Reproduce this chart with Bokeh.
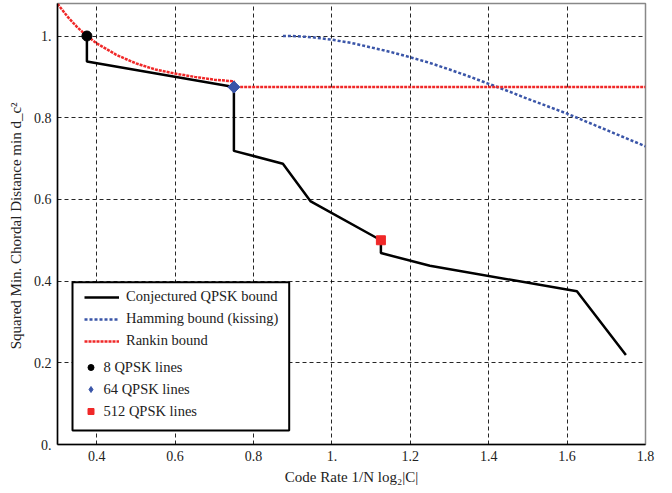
import numpy as np
from bokeh.plotting import figure
from bokeh.models import (Range1d, FixedTicker, Legend, LegendItem, BoxAnnotation)
from bokeh.embed import file_html
from bokeh.resources import INLINE

# ---- data ----
conj_x = [0.375, 0.375, 0.75, 0.75, 0.875, 0.946, 1.125, 1.125, 1.25, 1.625, 1.75]
conj_y = [1.0, 0.9375, 0.875, 0.71875, 0.6875, 0.595, 0.5, 0.46875, 0.4375, 0.375, 0.219]

hamming_x = [0.875, 0.9, 0.95, 1.0, 1.05, 1.1, 1.15, 1.2, 1.25, 1.3, 1.35, 1.4,
             1.45, 1.5, 1.55, 1.6, 1.65, 1.7, 1.75, 1.8]
hamming_y = [1.0, 1.0, 0.997, 0.991, 0.983, 0.972, 0.961, 0.948, 0.934, 0.918, 0.901, 0.883,
             0.865, 0.846, 0.828, 0.810, 0.790, 0.770, 0.750, 0.730]

rankin_x = [0.3, 0.325, 0.35, 0.375, 0.4, 0.45, 0.5, 0.55, 0.6, 0.65, 0.7, 0.75, 0.75, 1.8]
rankin_y = [1.079, 1.048, 1.022, 1.0, 0.982, 0.954, 0.933, 0.918, 0.908, 0.900, 0.893, 0.889, 0.875, 0.875]

pt8 = ([0.375], [1.0])
pt64 = ([0.75], [0.875])
pt512 = ([1.125], [0.5])

x_ticks = [0.4, 0.6, 0.8, 1.0, 1.2, 1.4, 1.6, 1.8]
y_ticks = [0.0, 0.2, 0.4, 0.6, 0.8, 1.0]

FONT = "Liberation Serif"
BLUE = "#3a55a8"
RED = "#f02828"

p = figure(frame_width=588, frame_height=441, output_backend="svg", toolbar_location=None,
           x_range=Range1d(0.3, 1.8), y_range=Range1d(0, 1.0796),
           min_border_left=57, min_border_right=20, min_border_top=3, min_border_bottom=0)

p.outline_line_color = "#888888"
p.outline_line_width = 1.5
p.background_fill_color = "white"

for ax in (p.xaxis[0], p.yaxis[0]):
    ax.axis_line_color = "black"
    ax.axis_line_width = 1.5
    ax.major_tick_in = 0
    ax.major_tick_out = 0
    ax.minor_tick_line_color = None
    ax.major_label_text_font = FONT
    ax.major_label_text_font_size = "14px"
    ax.major_label_text_color = "#222222"
    ax.axis_label_text_font = FONT
    ax.axis_label_text_font_size = "15px"
    ax.axis_label_text_font_style = "normal"
    ax.axis_label_text_color = "#222222"
    ax.major_label_standoff = 6

p.xaxis.ticker = FixedTicker(ticks=x_ticks)
p.yaxis.ticker = FixedTicker(ticks=y_ticks)
p.xaxis.major_label_overrides = {1: "1."}
p.yaxis.major_label_overrides = {0: "0.", 1: "1."}
p.xaxis.axis_label = "Code Rate 1/N log\u2082|C|"
p.yaxis.axis_label = "Squared Min. Chordal Distance  min d_c\u00b2"
p.xaxis.axis_label_standoff = 5
p.yaxis.axis_label_standoff = 7

for g in (p.xgrid[0], p.ygrid[0]):
    g.grid_line_color = "black"
    g.grid_line_alpha = 0.85
    g.grid_line_dash = "4 3"
    g.grid_line_width = 1

r_conj = p.line(conj_x, conj_y, line_color="black", line_width=2.5)
r_ham = p.line(hamming_x, hamming_y, line_color=BLUE, line_width=2.5, line_dash="3 2")
r_rank = p.line(rankin_x, rankin_y, line_color=RED, line_width=2.5, line_dash="3 1")
r8 = p.scatter(pt8[0], pt8[1], marker="circle", size=10, color="black")
r64_leg = p.scatter(pt64[0], pt64[1], marker="diamond", size=11, color=BLUE)
p.scatter(pt64[0], pt64[1], marker="square", angle=np.pi / 4, size=8.5, color=BLUE)
r512 = p.scatter(pt512[0], pt512[1], marker="square", size=9, color=RED)

# legend box
box = BoxAnnotation(left=15, right=231.7, bottom=14, top=162.3,
                    left_units="screen", right_units="screen",
                    bottom_units="screen", top_units="screen",
                    fill_color="white", fill_alpha=1.0,
                    line_color="black", line_width=2, line_alpha=1.0)
p.add_layout(box)

leg_lines = Legend(items=[LegendItem(label="Conjectured QPSK bound", renderers=[r_conj]),
                          LegendItem(label="Hamming bound (kissing)", renderers=[r_ham]),
                          LegendItem(label="Rankin bound", renderers=[r_rank])],
                   location=(22, 88.3), glyph_width=35, glyph_height=20, label_height=20,
                   spacing=2, padding=5, margin=0, label_standoff=7,
                   border_line_alpha=0, background_fill_alpha=0,
                   label_text_font=FONT, label_text_font_size="14.5px", label_text_color="#222222")
leg_pts = Legend(items=[LegendItem(label="8 QPSK lines", renderers=[r8]),
                        LegendItem(label="64 QPSK lines", renderers=[r64_leg]),
                        LegendItem(label="512 QPSK lines", renderers=[r512])],
                 location=(20.5, 17.7), glyph_width=15, glyph_height=20, label_height=20,
                 spacing=2, padding=5, margin=0, label_standoff=6,
                 border_line_alpha=0, background_fill_alpha=0,
                 label_text_font=FONT, label_text_font_size="14.5px", label_text_color="#222222")
p.add_layout(leg_lines, "center")
p.add_layout(leg_pts, "center")

open("out.html", "w").write(file_html(p, INLINE))
